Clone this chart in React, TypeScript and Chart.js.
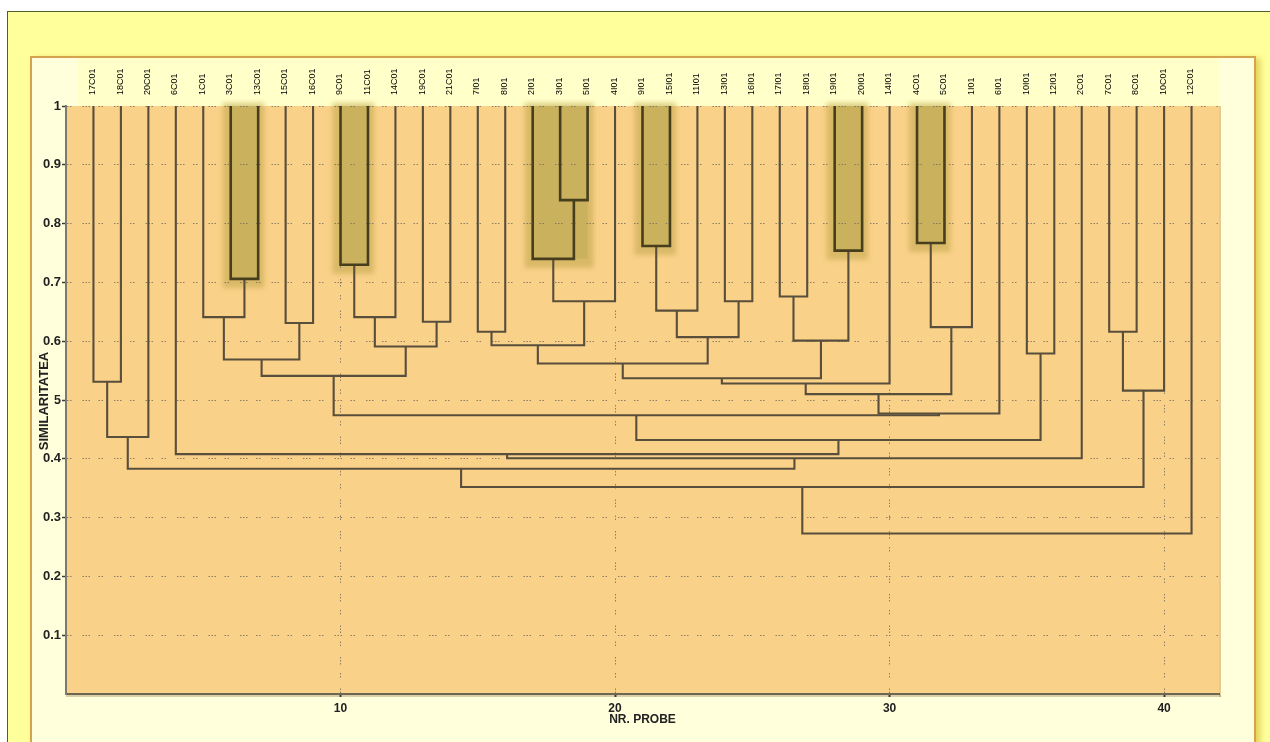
import React, { useEffect, useRef } from 'react';
import { Chart, registerables } from 'chart.js';

Chart.register(...registerables);

// Leaves, in the order they appear along the x axis (positions 1..41)
const leafLabels: string[] = [
  '17C01', '18C01', '20C01', '6C01', '1C01', '3C01', '13C01', '15C01', '16C01', '9C01',
  '11C01', '14C01', '19C01', '21C01', '7I01', '8I01', '2I01', '3I01', '5I01', '4I01',
  '9I01', '15I01', '11I01', '13I01', '16I01', '17I01', '18I01', '19I01', '20I01', '14I01',
  '4C01', '5C01', '1I01', '6I01', '10I01', '12I01', '2C01', '7C01', '8C01', '10C01', '12C01',
];

// Merge table (hclust convention): negative = leaf at that position, positive = earlier merge row (1-based)
const mergeLeft: number[] = [
  -6, -5, -8, 2, -10, 5, -13, 6, 4, -1,
  10, -15, -18, -17, 14, 12, -21, 17, -24, 18,
  16, -26, -28, 22, 21, 25, -31, 27, 26, 29,
  9, -35, 31, -4, 34, 11, -38, 37, 36, 39,
];
const mergeRight: number[] = [
  -7, 1, -9, 3, -11, -12, -14, 7, 8, -2,
  -3, -16, -19, 13, -20, 15, -22, -23, -25, 19,
  20, -27, -29, 23, 24, -30, -32, -33, 28, -34,
  30, -36, 32, 33, -37, 35, -39, -40, 38, -41,
];
const mergeHeight: number[] = [
  0.706, 0.641, 0.631, 0.569, 0.730, 0.641, 0.633, 0.591, 0.541, 0.531,
  0.437, 0.616, 0.840, 0.740, 0.668, 0.593, 0.762, 0.652, 0.668, 0.607,
  0.562, 0.676, 0.754, 0.601, 0.537, 0.528, 0.767, 0.624, 0.510, 0.477,
  0.474, 0.579, 0.432, 0.408, 0.401, 0.383, 0.616, 0.516, 0.352, 0.273,
];
// Highlighted clusters (merge rows, 1-based)
const highlightRows: number[] = [1, 5, 14, 17, 23, 27];

const xTickValues: number[] = [10, 20, 30, 40];
const yTickValues: number[] = [0.1, 0.2, 0.3, 0.4, 0.5, 0.6, 0.7, 0.8, 0.9, 1];

const X_MIN = 0;
const X_MAX = 42;
const STRONG = 0.7;

const FONT = '"Liberation Sans", Arial, sans-serif';
const PANEL = '#FFFFDC';
const PLOT_BG = '#FAD189';
const GRID = 'rgba(120,110,95,0.85)';
const GRID_DASH = [1.5, 1.5, 1.5, 11, 1.5, 1.5, 1.5, 1.5, 1.5, 8.5];

// ---- derived layout (from the merge table) ----
const nodeXs: number[] = [];
const nodeMin: number[] = [];
const nodeMax: number[] = [];
const refX = (r: number) => (r < 0 ? -r : nodeXs[r - 1]);
const refY = (r: number) => (r < 0 ? 1 : mergeHeight[r - 1]);
const refMin = (r: number) => (r < 0 ? -r : nodeMin[r - 1]);
const refMax = (r: number) => (r < 0 ? -r : nodeMax[r - 1]);
mergeHeight.forEach((_, k) => {
  const a = mergeLeft[k];
  const b = mergeRight[k];
  nodeXs.push((refX(a) + refX(b)) / 2);
  nodeMin.push(Math.min(refMin(a), refMin(b)));
  nodeMax.push(Math.max(refMax(a), refMax(b)));
});

const datasets = mergeHeight.map((h, k) => {
  const a = mergeLeft[k];
  const b = mergeRight[k];
  const left = refX(a) <= refX(b) ? a : b;
  const right = left === a ? b : a;
  const strong = h >= STRONG;
  return {
    data: [
      { x: refX(left), y: refY(left) },
      { x: refX(left), y: h },
      { x: refX(right), y: h },
      { x: refX(right), y: refY(right) },
    ],
    showLine: true,
    borderColor: strong ? 'rgb(70,62,28)' : 'rgb(88,78,60)',
    borderWidth: strong ? 2.6 : 2.1,
    pointRadius: 0,
    pointHoverRadius: 0,
    fill: false,
    tension: 0,
    borderJoinStyle: 'miter' as const,
  };
});

const backgroundPlugin = {
  id: 'dendroBackground',
  beforeDraw(chart: any) {
    const { ctx, chartArea } = chart;
    const xs = chart.scales.x;
    const ys = chart.scales.y;
    ctx.save();
    ctx.fillStyle = PLOT_BG;
    ctx.fillRect(chartArea.left, chartArea.top, chartArea.right - chartArea.left, chartArea.bottom - chartArea.top);
    ctx.fillStyle = 'rgba(190,140,60,0.45)';
    ctx.fillRect(chartArea.right, chartArea.top, 2, chartArea.bottom - chartArea.top + 3);
    ctx.fillStyle = 'rgba(150,120,70,0.35)';
    ctx.fillRect(chartArea.left, chartArea.bottom + 1, chartArea.right - chartArea.left + 2, 2);
    highlightRows.forEach((r) => {
      const xl = xs.getPixelForValue(nodeMin[r - 1]);
      const xr = xs.getPixelForValue(nodeMax[r - 1]);
      const yt = ys.getPixelForValue(1);
      const yb = ys.getPixelForValue(mergeHeight[r - 1]);
      ctx.save();
      ctx.filter = 'blur(2.5px)';
      ctx.fillStyle = 'rgba(190,165,75,0.55)';
      ctx.fillRect(xl - 8, yt - 3, xr - xl + 14, yb - yt + 12);
      ctx.restore();
      ctx.fillStyle = 'rgb(201,177,93)';
      ctx.fillRect(xl, yt, xr - xl, yb - yt);
    });
    ctx.restore();
  },
};

const yTitlePlugin = {
  id: 'yTitle',
  afterDraw(chart: any) {
    const { ctx, chartArea } = chart;
    const cy = (chartArea.top + chartArea.bottom) / 2;
    ctx.save();
    ctx.fillStyle = PANEL;
    ctx.fillRect(36, cy - 50, 18.5, 102);
    ctx.translate(44, cy + 1);
    ctx.rotate(-Math.PI / 2);
    ctx.font = `bold 13px ${FONT}`;
    ctx.textAlign = 'center';
    ctx.textBaseline = 'middle';
    ctx.fillStyle = '#222';
    ctx.fillText('SIMILARITATEA', 0, 0);
    ctx.restore();
  },
};

function Dendrogram() {
  const ref = useRef<HTMLCanvasElement | null>(null);
  useEffect(() => {
    if (!ref.current) return;
    const chart = new Chart(ref.current, {
      type: 'scatter',
      data: { datasets: datasets as any },
      options: {
        animation: false,
        responsive: false,
        devicePixelRatio: 1,
        events: [],
        layout: { padding: { left: 0, right: 51, top: 0, bottom: 0 } },
        plugins: { legend: { display: false }, tooltip: { enabled: false } },
        scales: {
          x: {
            type: 'linear',
            position: 'bottom',
            min: X_MIN,
            max: X_MAX,
            afterBuildTicks: (s: any) => {
              s.ticks = xTickValues.map((v) => ({ value: v }));
            },
            afterFit: (s: any) => {
              s.height = 48;
            },
            grid: {
              color: GRID,
              lineWidth: 1,
              drawTicks: true,
              tickLength: 3,
              tickColor: '#3a3a3a',
              tickWidth: 2,
              tickBorderDash: [],
            },
            border: { display: true, color: '#6e6652', width: 2, dash: GRID_DASH },
            ticks: {
              autoSkip: false,
              maxRotation: 0,
              padding: 4,
              color: '#222',
              font: { family: FONT, size: 12, weight: 'bold' },
              callback: (v: any) => String(v),
            },
            title: {
              display: true,
              text: 'NR. PROBE',
              color: '#222',
              font: { family: FONT, size: 12, weight: 'bold' },
              padding: { top: 0, bottom: 15 },
            },
          },
          xTop: {
            type: 'linear',
            position: 'top',
            min: X_MIN,
            max: X_MAX,
            afterBuildTicks: (s: any) => {
              s.ticks = leafLabels.map((_, i) => ({ value: i + 1 }));
            },
            afterFit: (s: any) => {
              s.height = 106;
            },
            grid: { display: false, drawTicks: false },
            border: { display: false },
            ticks: {
              autoSkip: false,
              minRotation: 90,
              maxRotation: 90,
              padding: 11,
              labelOffset: 10,
              color: '#000',
              font: { family: FONT, size: 9 },
              callback: (v: any) => leafLabels[Math.round(v) - 1] ?? '',
            },
          },
          y: {
            type: 'linear',
            position: 'left',
            min: 0,
            max: 1,
            afterBuildTicks: (s: any) => {
              s.ticks = yTickValues.map((v) => ({ value: v }));
            },
            afterFit: (s: any) => {
              s.width = 66;
            },
            grid: {
              color: GRID,
              lineWidth: 1,
              drawTicks: true,
              tickLength: 4,
              tickColor: '#3a3a3a',
              tickWidth: 1.5,
              tickBorderDash: [],
            },
            border: { display: true, color: '#7a7a72', width: 2, dash: GRID_DASH },
            ticks: {
              autoSkip: false,
              padding: 1,
              color: '#222',
              font: { family: FONT, size: 13, weight: 'bold' },
              callback: (v: any) => String(Number(Number(v).toFixed(1))),
            },
          },
        },
      } as any,
      plugins: [backgroundPlugin, yTitlePlugin],
    });
    return () => chart.destroy();
  }, []);
  return (
    <canvas
      ref={ref}
      width={1270}
      height={742}
      style={{ position: 'absolute', left: 0, top: 0, width: 1270, height: 742 }}
    />
  );
}

export default function App() {
  return (
    <div
      style={{
        position: 'absolute',
        left: 0,
        top: 0,
        width: 1270,
        height: 742,
        overflow: 'hidden',
        background: '#ffffff',
      }}
    >
      <div
        style={{
          position: 'absolute',
          left: 7,
          top: 11,
          width: 1320,
          height: 800,
          background: '#FFFF9C',
          border: '1px solid #4f5f2a',
        }}
      />
      <div
        style={{
          position: 'absolute',
          left: 30,
          top: 56,
          width: 1222,
          height: 800,
          background: PANEL,
          border: '2px solid #D5A24D',
          boxShadow: '4px 2px 6px rgba(215,190,60,0.7)',
        }}
      />
      <div
        style={{
          position: 'absolute',
          left: 77,
          top: 58,
          width: 1142,
          height: 48,
          background: '#FFFFC9',
        }}
      />
      <Dendrogram />
    </div>
  );
}
